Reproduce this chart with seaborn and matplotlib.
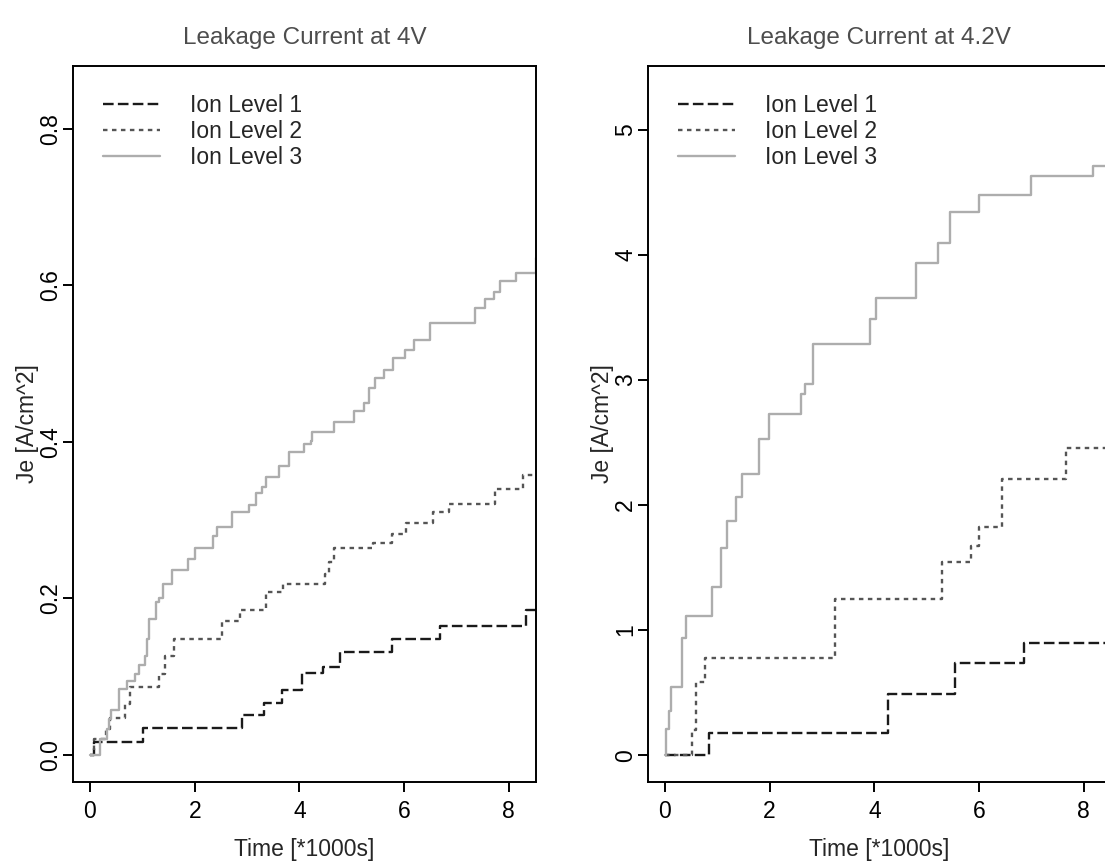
import numpy as np
import pandas as pd
import matplotlib
matplotlib.use("Agg")
import matplotlib.pyplot as plt
import seaborn as sns

# step data (time in 1000 s, Je in A/cm^2)
levels = ["Ion Level 1", "Ion Level 2", "Ion Level 3"]

# --- 4 V ---
t4_lvl1 = [0, 0.08, 1.01, 2.90, 3.33, 3.67, 4.05, 4.46, 4.78, 5.77, 6.69, 8.32, 8.52]
je4_lvl1 = [0, 0.017, 0.034, 0.051, 0.067, 0.083, 0.105, 0.113, 0.132, 0.148, 0.165, 0.185, 0.185]

t4_lvl2 = [0, 0.08, 0.31, 0.38, 0.67, 0.76, 1.31, 1.43, 1.61, 2.52, 2.87, 3.36, 3.68, 4.49,
           4.57, 4.67, 5.40, 5.77, 6.03, 6.55, 6.85, 7.73, 8.27, 8.52]
je4_lvl2 = [0, 0.020, 0.033, 0.047, 0.065, 0.087, 0.103, 0.126, 0.148, 0.171, 0.185, 0.208, 0.219, 0.231,
            0.247, 0.264, 0.271, 0.282, 0.296, 0.311, 0.321, 0.340, 0.358, 0.358]

t4_lvl3 = [0, 0.20, 0.32, 0.37, 0.41, 0.56, 0.70, 0.86, 0.94, 1.05, 1.08, 1.12, 1.26, 1.32, 1.40,
           1.56, 1.87, 2.01, 2.35, 2.43, 2.72, 3.03, 3.17, 3.29, 3.36, 3.61, 3.80, 4.08, 4.22, 4.25,
           4.67, 5.05, 5.23, 5.32, 5.45, 5.61, 5.79, 6.02, 6.18, 6.50, 7.35, 7.54, 7.71, 7.83, 8.13, 8.51]
je4_lvl3 = [0, 0.020, 0.033, 0.046, 0.057, 0.084, 0.095, 0.103, 0.115, 0.127, 0.148, 0.174, 0.195, 0.201, 0.218,
            0.236, 0.251, 0.264, 0.280, 0.291, 0.310, 0.320, 0.335, 0.343, 0.355, 0.369, 0.387, 0.397, 0.401, 0.412,
            0.426, 0.439, 0.450, 0.469, 0.482, 0.492, 0.507, 0.517, 0.530, 0.552, 0.571, 0.582, 0.591, 0.605, 0.616, 0.635]

# --- 4.2 V ---
t42_lvl1 = [0, 0.84, 4.26, 5.55, 6.85, 8.52]
je42_lvl1 = [0, 0.174, 0.491, 0.739, 0.899, 0.899]

t42_lvl2 = [0, 0.51, 0.59, 0.76, 3.24, 5.29, 5.84, 5.99, 6.43, 7.67, 8.52]
je42_lvl2 = [0, 0.198, 0.587, 0.779, 1.251, 1.547, 1.672, 1.827, 2.211, 2.459, 2.459]

t42_lvl3 = [0, 0.03, 0.08, 0.12, 0.32, 0.41, 0.89, 1.07, 1.18, 1.36, 1.48, 1.80, 1.99, 2.60, 2.68,
            2.82, 3.92, 4.04, 4.79, 5.22, 5.45, 5.99, 6.99, 8.17, 8.52]
je42_lvl3 = [0, 0.211, 0.352, 0.547, 0.939, 1.112, 1.347, 1.659, 1.872, 2.064, 2.246, 2.531, 2.726, 2.886, 2.966,
             3.291, 3.491, 3.659, 3.934, 4.094, 4.339, 4.478, 4.632, 4.712, 4.712]

titles = ["Leakage Current at 4V", "Leakage Current at 4.2V"]
yticks_4 = [0.0, 0.2, 0.4, 0.6, 0.8]
yticks_42 = [0, 1, 2, 3, 4, 5]
xticks = [0, 2, 4, 6, 8]


def make_df(ts, js):
    parts = []
    for lvl, t, j in zip(levels, ts, js):
        parts.append(pd.DataFrame({"time": t, "je": j, "level": lvl}))
    return pd.concat(parts, ignore_index=True)


df4 = make_df([t4_lvl1, t4_lvl2, t4_lvl3], [je4_lvl1, je4_lvl2, je4_lvl3])
df42 = make_df([t42_lvl1, t42_lvl2, t42_lvl3], [je42_lvl1, je42_lvl2, je42_lvl3])

sns.set_theme(style="ticks")
plt.rcParams["font.family"] = ["Liberation Sans", "DejaVu Sans"]
plt.rcParams["font.size"] = 16.5

palette = {"Ion Level 1": "#1a1a1a", "Ion Level 2": "#555555", "Ion Level 3": "#adadad"}
dashes = {"Ion Level 1": (4.5, 1.8), "Ion Level 2": (1.9, 1.9), "Ion Level 3": ""}

fig = plt.figure(figsize=(11.05, 8.63), dpi=100)
ax1 = fig.add_axes([0.0658, 0.0942, 0.4193, 0.8293])
ax2 = fig.add_axes([0.5861, 0.0942, 0.4193, 0.8293])

panels = [(ax1, df4, (-0.034, 0.88), yticks_4, ["0.0", "0.2", "0.4", "0.6", "0.8"]),
          (ax2, df42, (-0.212, 5.51), yticks_42, [str(v) for v in yticks_42])]

for i, (ax, d, ylim, yt, ytl) in enumerate(panels):
    sns.lineplot(data=d, x="time", y="je", hue="level", style="level",
                 hue_order=levels, style_order=levels, palette=palette, dashes=dashes,
                 estimator=None, sort=False, drawstyle="steps-post", linewidth=1.7, ax=ax)
    ax.set_xlim(-0.33, 8.52)
    ax.set_ylim(*ylim)
    ax.set_xticks(xticks)
    ax.set_xticklabels([str(v) for v in xticks])
    ax.set_yticks(yt)
    ax.set_yticklabels(ytl, rotation=90, va="center")
    ax.tick_params(axis="both", direction="out", length=7, width=1.4, labelsize=16.5,
                   color="black", labelcolor="black")
    ax.tick_params(axis="x", pad=6)
    ax.tick_params(axis="y", pad=0.5)
    for s in ax.spines.values():
        s.set_visible(True)
        s.set_linewidth(1.4)
        s.set_color("black")
    ax.set_xlabel("Time [*1000s]", fontsize=16.5, labelpad=11)
    ax.set_ylabel("Je [A/cm^2]", fontsize=16.5)
    ax.yaxis.set_label_coords(-0.073, 0.5)
    ax.set_title(titles[i], fontsize=17.5, color="#4d4d4d", pad=16)

    handles, labels = ax.get_legend_handles_labels()
    for h in handles:
        h.set_linewidth(1.7)
    ax.legend(handles, labels, loc="upper left", bbox_to_anchor=(0.065, 0.961),
              frameon=False, fontsize=16.5, handlelength=2.5, handletextpad=1.3,
              labelspacing=0.14, borderpad=0, borderaxespad=0)

fig.savefig("out.png", dpi=100)
